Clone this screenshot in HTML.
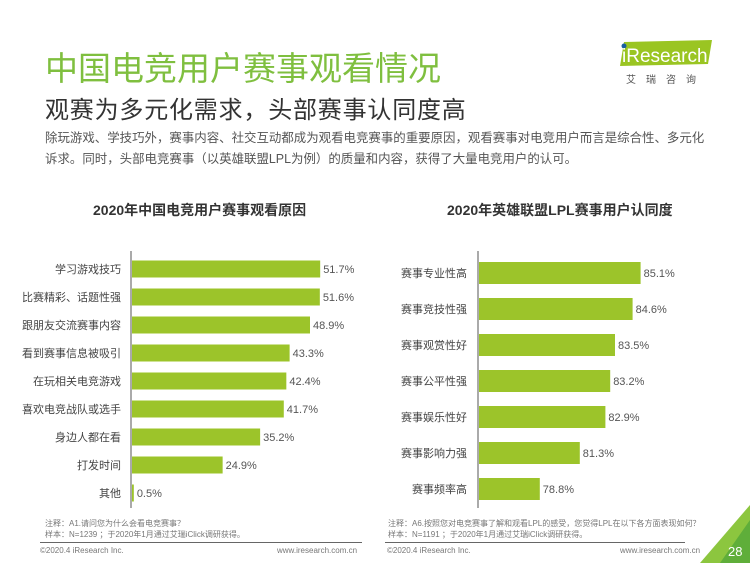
<!DOCTYPE html>
<html><head><meta charset="utf-8">
<style>
body{margin:0;width:750px;height:563px;background:#fff;position:relative;overflow:hidden;font-family:"Liberation Sans","Noto Sans CJK SC",sans-serif;}
.abs{position:absolute;white-space:nowrap;}
</style></head><body>
<div class="abs" style="left:45px;top:42px;font-size:33px;color:#7fbf3f;">中国电竞用户赛事观看情况</div>
<div class="abs" style="left:45px;top:90px;font-size:24px;letter-spacing:0.8px;color:#333;">观赛为多元化需求，头部赛事认同度高</div>
<div class="abs" style="left:45px;top:128px;font-size:12.45px;line-height:21px;color:#555;">除玩游戏、学技巧外，赛事内容、社交互动都成为观看电竞赛事的重要原因，观看赛事对电竞用户而言是综合性、多元化<br>诉求。同时，头部电竞赛事（以英雄联盟LPL为例）的质量和内容，获得了大量电竞用户的认可。</div>
<div class="abs" style="left:616px;top:38px;">
<svg width="100" height="50"><polygon points="8,4 96,2 92,26 4,28" fill="#9ac522"/><circle cx="8" cy="8" r="2.5" fill="#1a5fa0"/><text x="6" y="24" font-size="19" fill="#fff" font-family="Liberation Sans">iResearch</text><text x="10" y="45" font-size="10" fill="#555" letter-spacing="10" font-family="Noto Sans CJK SC">艾瑞咨询</text></svg></div>
<div class="abs" style="left:93px;top:200px;font-size:14px;font-weight:bold;color:#333;">2020年中国电竞用户赛事观看原因</div>
<div class="abs" style="left:447px;top:200px;font-size:14px;font-weight:bold;color:#333;">2020年英雄联盟LPL赛事用户认同度</div>
<svg class="abs" style="left:0;top:0" width="750" height="563" id="charts"></svg>
<div class="abs" style="left:45px;top:518px;font-size:8px;line-height:11px;color:#777;">注释：A1.请问您为什么会看电竞赛事？<br>样本：N=1239 ；于2020年1月通过艾瑞iClick调研获得。</div>
<div class="abs" style="left:388px;top:518px;font-size:8px;line-height:11px;color:#777;">注释：A6.按照您对电竞赛事了解和观看LPL的感受，您觉得LPL在以下各方面表现如何？<br>样本：N=1191 ；于2020年1月通过艾瑞iClick调研获得。</div>
<div class="abs" style="left:40px;top:542px;width:322px;border-top:1px solid #666;"></div>
<div class="abs" style="left:385px;top:542px;width:300px;border-top:1px solid #666;"></div>
<div class="abs" style="left:40px;top:546px;font-size:8px;color:#777;">©2020.4 iResearch Inc.</div>
<div class="abs" style="left:277px;top:546px;font-size:8px;color:#777;">www.iresearch.com.cn</div>
<div class="abs" style="left:387px;top:546px;font-size:8px;color:#777;">©2020.4 iResearch Inc.</div>
<div class="abs" style="left:620px;top:546px;font-size:8px;color:#777;">www.iresearch.com.cn</div>
<svg class="abs" style="left:690px;top:505px" width="60" height="58"><polygon points="60,0 60,58 10,58" fill="#8cc63f"/><polygon points="60,15 60,58 30,58" fill="#5fae3a"/><text x="38" y="51" font-size="13" fill="#fff" font-family="Liberation Sans">28</text></svg>
<script>
const leftCats=["学习游戏技巧","比赛精彩、话题性强","跟朋友交流赛事内容","看到赛事信息被吸引","在玩相关电竞游戏","喜欢电竞战队或选手","身边人都在看","打发时间","其他"];
const leftVals=[51.7,51.6,48.9,43.3,42.4,41.7,35.2,24.9,0.5];
const rightCats=["赛事专业性高","赛事竞技性强","赛事观赏性好","赛事公平性强","赛事娱乐性好","赛事影响力强","赛事频率高"];
const rightVals=[85.1,84.6,83.5,83.2,82.9,81.3,78.8];
const NS="http://www.w3.org/2000/svg";
const svg=document.getElementById('charts');
function mk(t,a){const e=document.createElementNS(NS,t);for(const k in a)e.setAttribute(k,a[k]);svg.appendChild(e);return e;}
function draw(cats,vals,o){
  const ax=mk('line',{x1:o.x0,x2:o.x0,y1:o.top,y2:o.bot,stroke:'#555','stroke-width':1});
  
  
  cats.forEach((c,i)=>{
    const cy=o.y0+i*o.step;
    const w=(vals[i]-o.min)*o.k;
    const r=mk('rect',{x:o.x0+1,y:cy-o.h/2,width:w,height:o.h,fill:'#9cc42a'});
    
    
    const l=mk('text',{x:o.lx,y:cy+4,'text-anchor':'end','font-size':11,fill:'#444','font-family':'Liberation Sans, Noto Sans CJK SC, sans-serif'});
    l.textContent=c;
    
    
    const v=mk('text',{x:o.x0+1+w+3,y:cy+4,'font-size':11,fill:'#555','font-family':'Liberation Sans, sans-serif'});
    v.textContent=vals[i].toFixed(1)+'%';
    
    
  });
}
draw(leftCats,leftVals,{p:'left',x0:131,top:251,bot:508,y0:269,step:28,h:17,min:0,k:3.64,lx:121});
draw(rightCats,rightVals,{p:'right',x0:478,top:251,bot:508,y0:273,step:36,h:22,min:75,k:16,lx:467});
</script>
</body></html>
